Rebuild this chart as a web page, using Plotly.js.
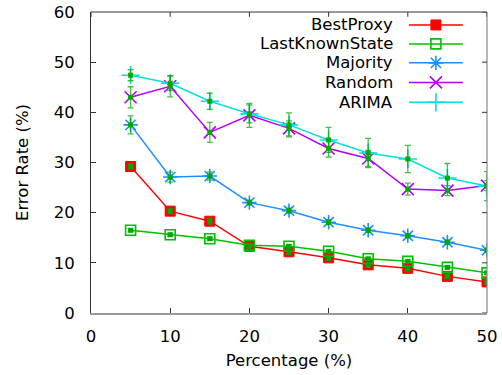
<!DOCTYPE html>
<html><head><meta charset="utf-8">
<script src="https://cdn.plot.ly/plotly-3.0.1.min.js"></script>
<style>html,body{margin:0;padding:0;background:#fff}#chart{width:502px;height:375px}</style>
</head><body><div id="chart"></div>
<script>
// ---- data ----
const percentage = [5, 10, 15, 20, 25, 30, 35, 40, 45, 50];
const seriesNames = ["BestProxy", "LastKnownState", "Majority", "Random", "ARIMA"];
const bestProxy      = [29.2, 20.3, 18.3, 13.3, 12.2, 11.0, 9.6, 8.9, 7.3, 6.2];
const lastKnownState = [16.5, 15.6, 14.8, 13.5, 13.3, 12.3, 10.8, 10.3, 9.1, 8.0];
const majority       = [37.5, 27.1, 27.3, 22.0, 20.4, 18.1, 16.5, 15.4, 14.1, 12.5];
const random         = [43.0, 45.2, 36.0, 39.4, 36.8, 32.8, 30.8, 24.7, 24.4, 25.4];
const arima          = [47.4, 45.8, 42.2, 39.7, 37.5, 34.5, 31.9, 30.7, 26.9, 25.3];
const bestProxyErr      = [0.5, 0.5, 0.6, 0.5, 0.5, 0.5, 0.5, 0.5, 0.4, 0.4];
const lastKnownStateErr = [0.3, 0.3, 0.3, 0.3, 0.3, 0.3, 0.3, 0.3, 0.3, 0.3];
const majorityErr       = [1.8, 1.0, 0.8, 0.5, 0.5, 0.5, 0.4, 0.4, 0.4, 0.4];
const randomErr         = [2.1, 2.1, 2.0, 2.4, 1.5, 1.7, 1.6, 1.2, 1.0, 1.0];
const arimaErr          = [1.1, 1.4, 1.6, 1.8, 2.4, 2.5, 2.9, 2.7, 2.9, 2.9];
const xTicks = [0, 10, 20, 30, 40, 50];
const yTicks = [0, 10, 20, 30, 40, 50, 60];

// ---- styles ----
const FONT = "DejaVu Sans, sans-serif";
const FS = 16.5;
const styles = [
  {color: "#ff0000", symbol: "square",          size: 10, mlw: 1},
  {color: "#00c000", symbol: "square-open",     size: 10, mlw: 1.6},
  {color: "#1f8fff", symbol: "asterisk-open",   size: 12, mlw: 1.6},
  {color: "#b000ff", symbol: "x-thin-open",     size: 12, mlw: 1.6},
  {color: "#00e0e0", symbol: "cross-thin-open", size: 13, mlw: 1.6}
];
const values = [bestProxy, lastKnownState, majority, random, arima];
const errs = [bestProxyErr, lastKnownStateErr, majorityErr, randomErr, arimaErr];

const traces = [];
values.forEach((v, i) => {
  const s = styles[i];
  traces.push({
    x: percentage, y: v, type: "scatter", mode: "lines+markers", name: seriesNames[i],
    showlegend: false,
    line: {color: s.color, width: 1.5},
    marker: {symbol: s.symbol, size: s.size, color: s.color, line: {color: s.color, width: s.mlw}}
  });
});
values.forEach((v, i) => {
  traces.push({
    x: percentage, y: v, type: "scatter", mode: "markers", showlegend: false, hoverinfo: "skip",
    marker: {symbol: "square", size: 5, color: "#00a800"},
    error_y: {type: "data", array: errs[i], visible: true, color: "rgba(0,175,0,0.75)", thickness: 1.3, width: 3}
  });
});

// legend samples (on a hidden overlay axis, paper-like coordinates)
const legRows = [0.957, 0.894, 0.831, 0.766, 0.700];
const legX0 = 0.803, legX1 = 0.939, legXm = 0.871;
const annotations = [];
seriesNames.forEach((n, i) => {
  const s = styles[i];
  traces.push({
    x: [legX0, legX1], y: [legRows[i], legRows[i]], xaxis: "x2", yaxis: "y2",
    type: "scatter", mode: "lines", showlegend: false, hoverinfo: "skip",
    line: {color: s.color, width: 1.5}
  });
  traces.push({
    x: [legXm], y: [legRows[i]], xaxis: "x2", yaxis: "y2",
    type: "scatter", mode: "markers", showlegend: false, hoverinfo: "skip",
    marker: {symbol: s.symbol, size: s.size, color: s.color, line: {color: s.color, width: s.mlw}}
  });
  annotations.push({
    xref: "paper", yref: "paper", x: 0.768, y: legRows[i], xanchor: "right", yanchor: "middle",
    text: n, showarrow: false, font: {family: FONT, size: FS, color: "#000"}
  });
});

const layout = {
  width: 502, height: 375,
  margin: {l: 91, r: 15, t: 12, b: 62},
  paper_bgcolor: "#fff", plot_bgcolor: "#fff",
  font: {family: FONT, size: FS, color: "#000"},
  showlegend: false,
  xaxis: {
    range: [0, 50], tickvals: xTicks, ticktext: xTicks.map(String),
    ticks: "inside", ticklen: 5, tickcolor: "#333", tickwidth: 1,
    showgrid: false, zeroline: false, showline: true, linecolor: "#999", linewidth: 1.5,
    ticklabelstandoff: 8,
    title: {text: "Percentage (%)", font: {family: FONT, size: FS}, standoff: 9},
    automargin: false
  },
  yaxis: {
    range: [0, 60], tickvals: yTicks, ticktext: yTicks.map(String),
    ticks: "inside", ticklen: 5, tickcolor: "#333", tickwidth: 1,
    showgrid: false, zeroline: false, showline: true, linecolor: "#333", linewidth: 1,
    ticklabelstandoff: 12,
    title: {text: "Error Rate (%)", font: {family: FONT, size: FS}, standoff: 20},
    automargin: false
  },
  xaxis2: {overlaying: "x", range: [0, 1], visible: false, fixedrange: true},
  yaxis2: {overlaying: "y", range: [0, 1], visible: false, fixedrange: true},
  shapes: [
    {type: "line", xref: "paper", yref: "paper", x0: 0, x1: 1, y0: 1, y1: 1, line: {color: "#333", width: 1}},
    {type: "line", xref: "paper", yref: "paper", x0: 1, x1: 1, y0: 0, y1: 1, line: {color: "#888", width: 1.2}}
  ].concat(
    xTicks.map(t => ({type: "line", xref: "x", yref: "paper", x0: t, x1: t, y0: 1, y1: 0.984, line: {color: "#333", width: 1}})),
    yTicks.map(t => ({type: "line", xref: "paper", yref: "y", x0: 1, x1: 0.9874, y0: t, y1: t, line: {color: "#333", width: 1}}))
  ),
  annotations: annotations
};

Plotly.newPlot("chart", traces, layout, {staticPlot: true, displayModeBar: false});
</script></body></html>
